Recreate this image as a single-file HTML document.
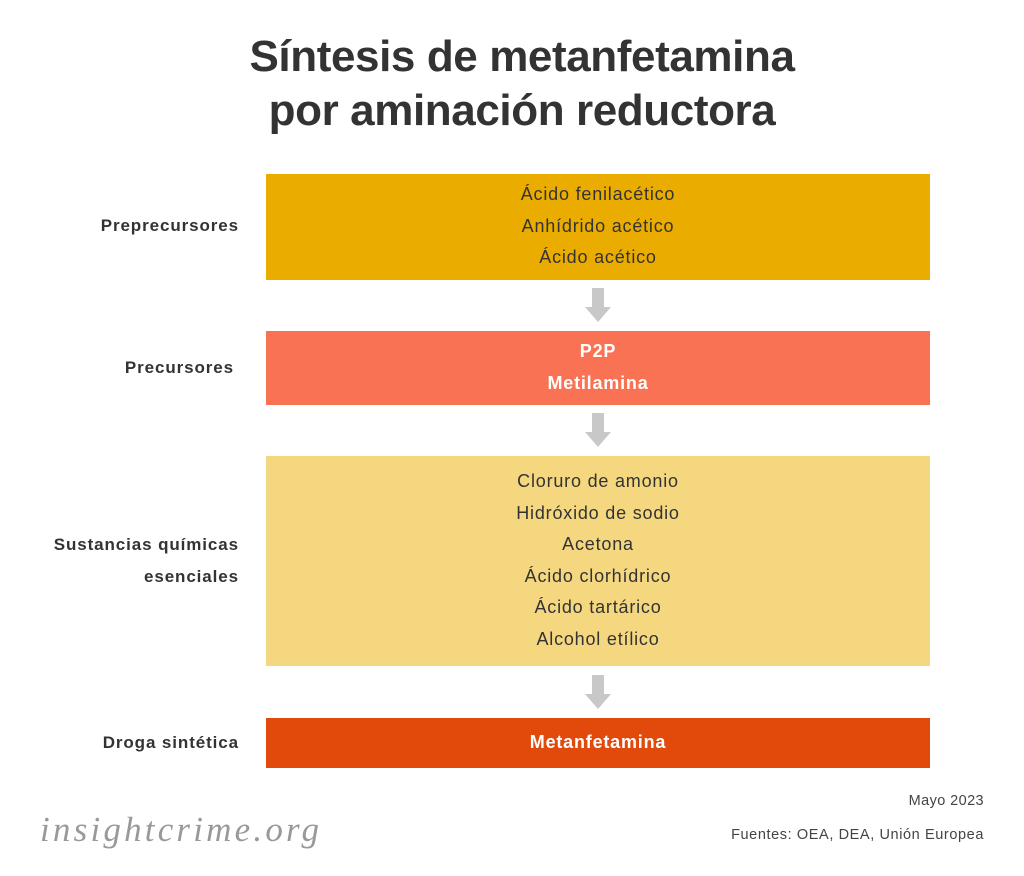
<!DOCTYPE html>
<html><head><meta charset="utf-8"><style>
body{margin:0;width:1024px;height:876px;background:#fff;position:relative;font-family:"Liberation Sans",sans-serif;color:#333;overflow:hidden}
.a{position:absolute}
.t{left:10px;width:1024px;text-align:center;font-weight:bold;font-size:44px;color:#333;letter-spacing:-0.4px}
.box{position:absolute;left:266px;width:664px;text-align:center;font-size:18px;line-height:31.5px;box-sizing:border-box;letter-spacing:0.8px}
.lab{position:absolute;right:785px;text-align:right;font-weight:bold;font-size:17px;line-height:31.5px;color:#333;letter-spacing:0.9px}
.arr{position:absolute;left:585px;width:26px;height:34px}
</style></head><body>
<div class="a t" style="top:30px;line-height:54px">Síntesis de metanfetamina<br>por aminación reductora</div>

<div class="box" style="top:174px;height:106px;background:#ebac00;padding-top:5px">Ácido fenilacético<br>Anhídrido acético<br>Ácido acético</div>
<div class="lab" style="top:210px">Preprecursores</div>

<svg class="arr" style="top:288px" viewBox="0 0 26 34"><path d="M7 0H19V19H26L13 34L0 19H7Z" fill="#c8c8c8"/></svg>

<div class="box" style="top:331px;height:74px;background:#f87253;color:#fff;font-weight:bold;padding-top:5px">P2P<br>Metilamina</div>
<div class="lab" style="top:352px;right:790px">Precursores</div>

<svg class="arr" style="top:413px" viewBox="0 0 26 34"><path d="M7 0H19V19H26L13 34L0 19H7Z" fill="#c8c8c8"/></svg>

<div class="box" style="top:456px;height:210px;background:#f4d77f;padding-top:10px">Cloruro de amonio<br>Hidróxido de sodio<br>Acetona<br>Ácido clorhídrico<br>Ácido tartárico<br>Alcohol etílico</div>
<div class="lab" style="top:529px">Sustancias químicas<br>esenciales</div>

<svg class="arr" style="top:675px" viewBox="0 0 26 34"><path d="M7 0H19V19H26L13 34L0 19H7Z" fill="#c8c8c8"/></svg>

<div class="box" style="top:718px;height:50px;background:#e24a0b;color:#fff;font-weight:bold;padding-top:9px">Metanfetamina</div>
<div class="lab" style="top:727px">Droga sintética</div>

<div class="a" style="right:40px;top:793px;font-size:14.5px;color:#444;letter-spacing:0.4px">Mayo 2023</div>
<div class="a" style="right:40px;top:827px;font-size:14.5px;color:#444;letter-spacing:0.6px">Fuentes: OEA, DEA, Unión Europea</div>
<div class="a" style="left:40px;top:810px;font-family:'Liberation Serif',serif;font-style:italic;font-size:35px;color:#999;letter-spacing:3.2px">insightcrime.org</div>
</body></html>
